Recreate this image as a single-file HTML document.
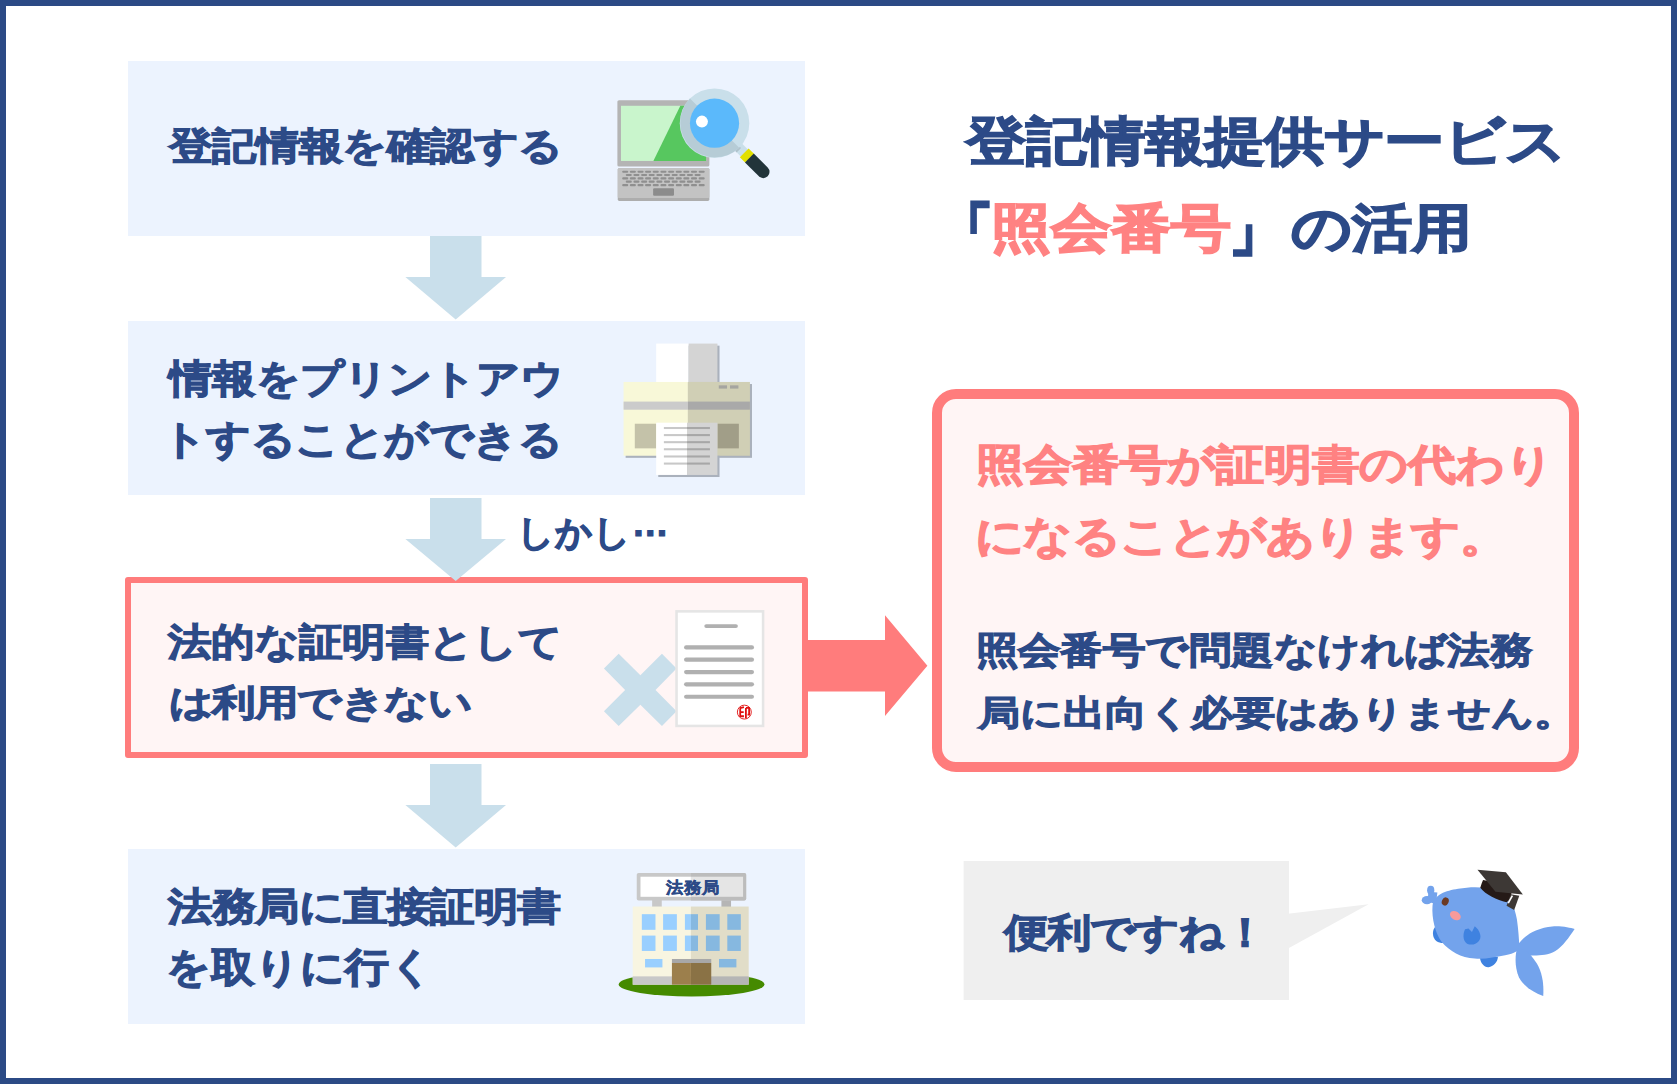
<!DOCTYPE html>
<html lang="ja">
<head>
<meta charset="utf-8">
<style>
html,body{margin:0;padding:0;}
body{width:1677px;height:1084px;position:relative;overflow:hidden;background:#fff;font-family:"Liberation Sans",sans-serif;font-weight:bold;}
.frame{position:absolute;left:0;top:0;width:1665px;height:1072px;border:6px solid #2b4a85;}
.abs{position:absolute;}
.box{position:absolute;background:#ecf3fe;}
.t{position:absolute;white-space:nowrap;color:#2c4a87;line-height:1;-webkit-text-stroke:1.2px currentColor;}
svg{position:absolute;overflow:visible;}
</style>
</head>
<body>
<div class="frame"></div>

<!-- left flow boxes -->
<div class="box" style="left:128px;top:61px;width:677px;height:175px;"></div>
<div class="box" style="left:128px;top:321px;width:677px;height:174px;"></div>
<div class="abs" style="left:125px;top:577px;width:671px;height:169px;border:6px solid #ff7c7c;border-radius:3px;background:#fff5f5;"></div>
<div class="box" style="left:128px;top:849px;width:677px;height:175px;"></div>

<!-- down arrows -->
<svg style="left:0;top:0" width="1677" height="1084">
  <polygon fill="#c9dfeb" points="430,236 481.5,236 481.5,277 506,277 455.7,319.5 405.4,277 430,277"/>
  <polygon fill="#c9dfeb" points="430,498 481.5,498 481.5,539 506,539 455.7,581 405.4,539 430,539"/>
  <polygon fill="#c9dfeb" points="430,764 481.5,764 481.5,805 506,805 455.7,847.4 405.4,805 430,805"/>
  <polygon fill="#ff7c7c" points="806,640 885,640 885,615.3 927.4,665.7 885,716 885,691.4 806,691.4"/>
</svg>



<!-- right pink box -->
<div class="abs" style="left:932px;top:389px;width:627px;height:363px;border:10px solid #ff7c7c;border-radius:24px;background:#fff5f5;"></div>

<!-- speech bubble -->
<svg style="left:0;top:0" width="1677" height="1084">
  <rect x="963.6" y="861" width="325.4" height="139" fill="#efefef"/>
  <polygon fill="#efefef" points="1288,913.8 1368.6,904.3 1288,948.4"/>
</svg>


<!-- laptop + magnifier -->
<svg style="left:600px;top:80px" width="180" height="130" viewBox="0 0 1501 1084">
  <rect x="145" y="168" width="767" height="554" rx="14" fill="#b4b4b4"/>
  <rect x="175" y="215" width="710" height="460" fill="#c9f5cc"/>
  <polygon points="670,215 885,215 885,675 445,675" fill="#57c75f"/>
  <rect x="148" y="735" width="764" height="273" rx="12" fill="#adadad"/>
  <rect x="148" y="735" width="764" height="250" rx="12" fill="#c3c3c3"/>
  <g fill="#8f8f8f">
    <rect x="185" y="756" width="50" height="18" rx="8"/><rect x="249" y="756" width="50" height="18" rx="8"/><rect x="313" y="756" width="50" height="18" rx="8"/><rect x="376" y="756" width="50" height="18" rx="8"/><rect x="440" y="756" width="50" height="18" rx="8"/><rect x="504" y="756" width="50" height="18" rx="8"/><rect x="568" y="756" width="50" height="18" rx="8"/><rect x="632" y="756" width="50" height="18" rx="8"/><rect x="695" y="756" width="50" height="18" rx="8"/><rect x="759" y="756" width="50" height="18" rx="8"/><rect x="823" y="756" width="50" height="18" rx="8"/><rect x="215" y="783" width="50" height="18" rx="8"/><rect x="279" y="783" width="50" height="18" rx="8"/><rect x="343" y="783" width="50" height="18" rx="8"/><rect x="406" y="783" width="50" height="18" rx="8"/><rect x="470" y="783" width="50" height="18" rx="8"/><rect x="534" y="783" width="50" height="18" rx="8"/><rect x="598" y="783" width="50" height="18" rx="8"/><rect x="662" y="783" width="50" height="18" rx="8"/><rect x="725" y="783" width="50" height="18" rx="8"/><rect x="789" y="783" width="50" height="18" rx="8"/><rect x="185" y="811" width="50" height="18" rx="8"/><rect x="249" y="811" width="50" height="18" rx="8"/><rect x="313" y="811" width="50" height="18" rx="8"/><rect x="376" y="811" width="50" height="18" rx="8"/><rect x="440" y="811" width="50" height="18" rx="8"/><rect x="504" y="811" width="50" height="18" rx="8"/><rect x="568" y="811" width="50" height="18" rx="8"/><rect x="632" y="811" width="50" height="18" rx="8"/><rect x="695" y="811" width="50" height="18" rx="8"/><rect x="759" y="811" width="50" height="18" rx="8"/><rect x="823" y="811" width="50" height="18" rx="8"/><rect x="215" y="839" width="50" height="18" rx="8"/><rect x="279" y="839" width="50" height="18" rx="8"/><rect x="343" y="839" width="50" height="18" rx="8"/><rect x="406" y="839" width="50" height="18" rx="8"/><rect x="470" y="839" width="50" height="18" rx="8"/><rect x="534" y="839" width="50" height="18" rx="8"/><rect x="598" y="839" width="50" height="18" rx="8"/><rect x="662" y="839" width="50" height="18" rx="8"/><rect x="725" y="839" width="50" height="18" rx="8"/><rect x="789" y="839" width="50" height="18" rx="8"/><rect x="185" y="867" width="50" height="18" rx="8"/><rect x="249" y="867" width="50" height="18" rx="8"/><rect x="313" y="867" width="50" height="18" rx="8"/><rect x="376" y="867" width="50" height="18" rx="8"/><rect x="440" y="867" width="50" height="18" rx="8"/><rect x="504" y="867" width="50" height="18" rx="8"/><rect x="568" y="867" width="50" height="18" rx="8"/><rect x="632" y="867" width="50" height="18" rx="8"/><rect x="695" y="867" width="50" height="18" rx="8"/><rect x="759" y="867" width="50" height="18" rx="8"/><rect x="823" y="867" width="50" height="18" rx="8"/>
  </g>
  <rect x="443" y="902" width="174" height="63" rx="9" fill="#8c8c8c"/>
  <g transform="rotate(45 955 360)">
    <rect x="1230" y="318" width="80" height="84" fill="#c9dfea"/>
    <rect x="1236" y="350" width="22" height="52" fill="#b0c2cb"/>
    <rect x="1305" y="308" width="63" height="104" fill="#e2e000"/>
    <path d="M1366,308 H1530 A52,52 0 0 1 1530,412 H1366 Z" fill="#22343a"/>
  </g>
  <circle cx="955" cy="360" r="290" fill="#c9dfea"/>
  <path d="M1160,565 A290,290 0 0 1 750,155 Z" fill="#b6ccd6"/>
  <circle cx="955" cy="360" r="205" fill="#5bb9fb"/>
  <circle cx="850" cy="347" r="50" fill="#fff"/>
</svg>

<!-- printer -->
<svg style="left:610px;top:330px" width="160" height="160" viewBox="0 0 1084 1084">
  <rect x="327" y="106" width="415" height="263" fill="#aab1bc"/>
  <rect x="313" y="92" width="220" height="263" fill="#ffffff"/>
  <rect x="533" y="92" width="195" height="263" fill="#d4d4d4"/>
  <rect x="106" y="366" width="856" height="500" fill="#aab1bc"/>
  <rect x="92" y="352" width="436" height="500" fill="#f8f8d8"/>
  <rect x="528" y="352" width="420" height="500" fill="#d0cfb5"/>
  <rect x="92" y="485" width="436" height="55" fill="#cbcbcb"/>
  <rect x="528" y="485" width="420" height="55" fill="#a9a9a9"/>
  <rect x="737" y="375" width="56" height="22" fill="#a5a5a0"/>
  <rect x="813" y="375" width="57" height="22" fill="#a5a5a0"/>
  <rect x="168" y="635" width="145" height="167" fill="#c4c2a9"/>
  <rect x="728" y="635" width="145" height="167" fill="#a19e88"/>
  <rect x="327" y="852" width="415" height="144" fill="#aab1bc"/>
  <rect x="313" y="628" width="209" height="354" fill="#ffffff"/>
  <rect x="522" y="628" width="206" height="354" fill="#d4d4d4"/>
  <rect x="365" y="657" width="157" height="14" fill="#c8c8c8"/><rect x="522" y="657" width="155" height="14" fill="#a7a7a7"/><rect x="365" y="705" width="157" height="14" fill="#c8c8c8"/><rect x="522" y="705" width="155" height="14" fill="#a7a7a7"/><rect x="365" y="753" width="157" height="14" fill="#c8c8c8"/><rect x="522" y="753" width="155" height="14" fill="#a7a7a7"/><rect x="365" y="801" width="157" height="14" fill="#c8c8c8"/><rect x="522" y="801" width="155" height="14" fill="#a7a7a7"/><rect x="365" y="850" width="157" height="14" fill="#c8c8c8"/><rect x="522" y="850" width="155" height="14" fill="#a7a7a7"/><rect x="365" y="898" width="157" height="14" fill="#c8c8c8"/><rect x="522" y="898" width="155" height="14" fill="#a7a7a7"/>
</svg>

<!-- X + document -->
<svg style="left:590px;top:600px" width="190" height="140" viewBox="0 0 1471 1084">
  <polygon fill="#c9dfeb" points="108,530 222,417 390,582 557,417 670,530 507,697 670,862 557,975 390,812 222,975 108,862 272,697"/>
  <rect x="660" y="78" width="690" height="907" fill="#e5e5e5"/>
  <rect x="680" y="98" width="650" height="867" fill="#ffffff"/>
  <g stroke="#b0b0b0" stroke-linecap="round" fill="none">
    <line x1="900" y1="202" x2="1130" y2="202" stroke-width="30"/>
    <line x1="744" y1="367" x2="1254" y2="367" stroke-width="32"/>
    <line x1="744" y1="462" x2="1254" y2="462" stroke-width="32"/>
    <line x1="744" y1="558" x2="1254" y2="558" stroke-width="32"/>
    <line x1="744" y1="653" x2="1254" y2="653" stroke-width="32"/>
    <line x1="744" y1="749" x2="1254" y2="749" stroke-width="32"/>
  </g>
  <circle cx="1195" cy="868" r="54" fill="#fff" stroke="#e01010" stroke-width="7"/>
  <g stroke="#e01010" stroke-width="14" fill="none" stroke-linecap="butt">
    <path d="M1163,838 V905 M1160,838 L1192,830 M1163,868 H1190 M1163,900 H1192"/>
    <path d="M1207,836 H1232 V888 H1220 M1207,836 V915"/>
  </g>
</svg>

<!-- building -->
<svg style="left:610px;top:860px" width="170" height="145" viewBox="0 0 1271 1084">
  <ellipse cx="610" cy="930" rx="545" ry="90" fill="#458a00"/>
  <rect x="315" y="290" width="72" height="70" fill="#c8c8c8"/>
  <rect x="833" y="290" width="72" height="70" fill="#b5b5b5"/>
  <rect x="200" y="97" width="818" height="205" rx="14" fill="#c8c8c8"/>
  <path d="M605,97 H1004 A14,14 0 0 1 1018,111 V288 A14,14 0 0 1 1004,302 H605 Z" fill="#bcbcbc"/>
  <rect x="228" y="125" width="377" height="150" fill="#ffffff"/>
  <rect x="605" y="125" width="390" height="150" fill="#e5e5e5"/>
  <rect x="170" y="348" width="435" height="584" fill="#f8f5e1"/>
  <rect x="605" y="348" width="432" height="584" fill="#e1ddc8"/>
  <rect x="170" y="870" width="435" height="62" fill="#c8c8c8"/>
  <rect x="605" y="870" width="432" height="62" fill="#b5b5b5"/>
  <g fill="#99cfff">
    <rect x="238" y="405" width="102" height="117"/><rect x="397" y="405" width="103" height="117"/><rect x="560" y="405" width="45" height="117"/>
    <rect x="238" y="565" width="102" height="115"/><rect x="397" y="565" width="103" height="115"/><rect x="560" y="565" width="45" height="115"/>
    <rect x="262" y="740" width="130" height="63"/>
  </g>
  <g fill="#86b8e0">
    <rect x="605" y="405" width="53" height="117"/><rect x="717" y="405" width="103" height="117"/><rect x="877" y="405" width="101" height="117"/>
    <rect x="605" y="565" width="53" height="115"/><rect x="717" y="565" width="103" height="115"/><rect x="877" y="565" width="101" height="115"/>
    <rect x="815" y="740" width="130" height="63"/>
  </g>
  <rect x="463" y="740" width="294" height="30" fill="#a8a8a8"/>
  <rect x="463" y="770" width="142" height="162" fill="#9c7f4c"/>
  <rect x="605" y="770" width="152" height="162" fill="#8a7245"/>
</svg>


<!-- fish -->
<svg style="left:1400px;top:860px" width="190" height="150" viewBox="0 0 1373 1084">
  <g fill="#3f82e0">
    <path d="M262,478 C228,500 232,560 262,585 C285,600 315,605 335,595 L300,480 Z"/>
    <path d="M578,705 C580,745 610,778 640,775 C675,772 705,740 708,700 Z"/>
  </g>
  <g fill="#73a3ec">
    <path d="M850,615 C900,540 990,490 1100,480 C1170,475 1230,490 1262,498 C1220,560 1180,620 1120,660 C1060,695 990,690 920,690 C880,690 860,660 850,640 Z"/>
    <path d="M845,640 C830,700 830,780 860,850 C900,920 970,960 1035,982 C1040,900 1030,820 990,750 C960,700 930,670 900,650 Z"/>
    <path d="M235,330 C245,250 330,222 420,208 C520,192 610,190 700,225 C790,262 830,330 845,430 C855,500 860,570 862,620 C860,660 830,675 760,688 C680,702 620,718 540,712 C440,705 360,660 300,590 C255,530 228,420 235,330 Z"/>
    <ellipse cx="222" cy="218" rx="26" ry="32"/>
    <ellipse cx="195" cy="290" rx="38" ry="30"/>
    <path d="M205,230 L270,235 L260,320 L200,300 Z"/>
  </g>
  <ellipse cx="327" cy="300" rx="24" ry="30" transform="rotate(25 327 300)" fill="#6b3a24"/>
  <ellipse cx="400" cy="402" rx="42" ry="30" transform="rotate(30 400 402)" fill="#f79a9a"/>
  <path d="M470,500 C450,540 455,600 500,610 C550,620 590,580 580,540 C575,510 555,490 540,478 L520,520 L495,495 Z" fill="#3f82e0"/>
  <path d="M590,170 L600,145 C650,150 720,175 810,200 L800,280 L770,305 C700,290 620,250 580,200 Z" fill="#251a17"/>
  <polygon points="560,70 765,88 888,250 690,230" fill="#3d3835"/>
  <polygon points="800,248 862,258 825,362 770,330" fill="#3d3835"/>
  <line x1="812" y1="258" x2="782" y2="312" stroke="#fff" stroke-width="12"/>
</svg>

<!-- text -->
<div class="t" style="left:168.70px;top:124.10px;font-size:44px;letter-spacing:-0.58px;transform:scaleY(0.862);transform-origin:0 50%;-webkit-text-stroke:1.32px currentColor;">登記情報を確認する</div>
<div class="t" style="left:169.40px;top:356.50px;font-size:44px;letter-spacing:-0.90px;transform:scaleY(0.896);transform-origin:0 50%;-webkit-text-stroke:1.32px currentColor;">情報をプリントアウ</div>
<div class="t" style="left:162.00px;top:416.65px;font-size:44px;letter-spacing:-0.54px;transform:scaleY(0.909);transform-origin:0 50%;-webkit-text-stroke:1.32px currentColor;">トすることができる</div>
<div class="t" style="left:516.90px;top:513.60px;font-size:37px;letter-spacing:0.30px;transform:scaleY(0.984);transform-origin:0 50%;-webkit-text-stroke:1.11px currentColor;">しかし<span style="position:relative;top:-9px">…</span></div>
<div class="t" style="left:168.00px;top:619.55px;font-size:44px;letter-spacing:-0.67px;transform:scaleY(0.873);transform-origin:0 50%;-webkit-text-stroke:1.32px currentColor;">法的な証明<span style="-webkit-text-stroke:0.4px currentColor">書</span>として</div>
<div class="t" style="left:168.50px;top:681.20px;font-size:44px;letter-spacing:-1.44px;transform:scaleY(0.826);transform-origin:0 50%;-webkit-text-stroke:1.32px currentColor;">は利用できない</div>
<div class="t" style="left:168.00px;top:884.85px;font-size:44px;letter-spacing:-0.47px;transform:scaleY(0.878);transform-origin:0 50%;-webkit-text-stroke:1.32px currentColor;">法務局に直接証明<span style="-webkit-text-stroke:0.4px currentColor">書</span></div>
<div class="t" style="left:166.00px;top:945.00px;font-size:44px;letter-spacing:0.10px;transform:scaleY(0.913);transform-origin:0 50%;-webkit-text-stroke:1.32px currentColor;">を取りに行く</div>
<div class="t" style="left:966.00px;top:111.75px;font-size:60px;letter-spacing:-0.37px;transform:scaleY(0.863);transform-origin:0 50%;-webkit-text-stroke:1.8px currentColor;">登記情報提供サービス</div>
<div class="t" style="left:938.10px;top:199.90px;font-size:60px;letter-spacing:0.00px;transform:scaleY(0.92);transform-origin:0 50%;-webkit-text-stroke:1.8px currentColor;"><span style="display:inline-block;transform:scale(0.78,1.0);transform-origin:50% 0;-webkit-text-stroke:4.5px currentColor">「</span></div>
<div class="t" style="left:991.00px;top:199.10px;font-size:60px;letter-spacing:-0.07px;transform:scaleY(0.866);transform-origin:0 50%;-webkit-text-stroke:1.8px currentColor;"><span style="color:#ff8282">照会番号</span><span style="display:inline-block;transform:translate(-2.5px,3px) scale(0.78,1.04);transform-origin:20% 100%;-webkit-text-stroke:4.5px currentColor">」</span>の活用</div>
<div class="t" style="left:976.20px;top:440.55px;font-size:48px;letter-spacing:-0.22px;color:#ff8282;transform:scaleY(0.875);transform-origin:0 50%;-webkit-text-stroke:1.44px currentColor;">照会番号が証明<span style="-webkit-text-stroke:0.4px currentColor">書</span>の代わり</div>
<div class="t" style="left:975.00px;top:512.70px;font-size:48px;letter-spacing:-0.55px;color:#ff8282;transform:scaleY(0.89);transform-origin:0 50%;-webkit-text-stroke:1.44px currentColor;">になることがあります。</div>
<div class="t" style="left:975.50px;top:629.90px;font-size:42px;letter-spacing:0.45px;transform:scaleY(0.869);transform-origin:0 50%;-webkit-text-stroke:1.26px currentColor;">照会番号で問題なければ法務</div>
<div class="t" style="left:978.00px;top:691.80px;font-size:42px;letter-spacing:0.15px;transform:scaleY(0.83);transform-origin:0 50%;-webkit-text-stroke:1.26px currentColor;">局に出向く必要はありません。</div>
<div class="t" style="left:1003.50px;top:910.60px;font-size:44px;letter-spacing:-0.70px;transform:scaleY(0.877);transform-origin:0 50%;-webkit-text-stroke:1.32px currentColor;">便利ですね！</div>
<div class="t" style="left:665.50px;top:878.70px;font-size:17px;letter-spacing:1.25px;transform:scaleY(0.92);transform-origin:0 50%;-webkit-text-stroke:0.5px currentColor;">法務局</div>
</body>
</html>
